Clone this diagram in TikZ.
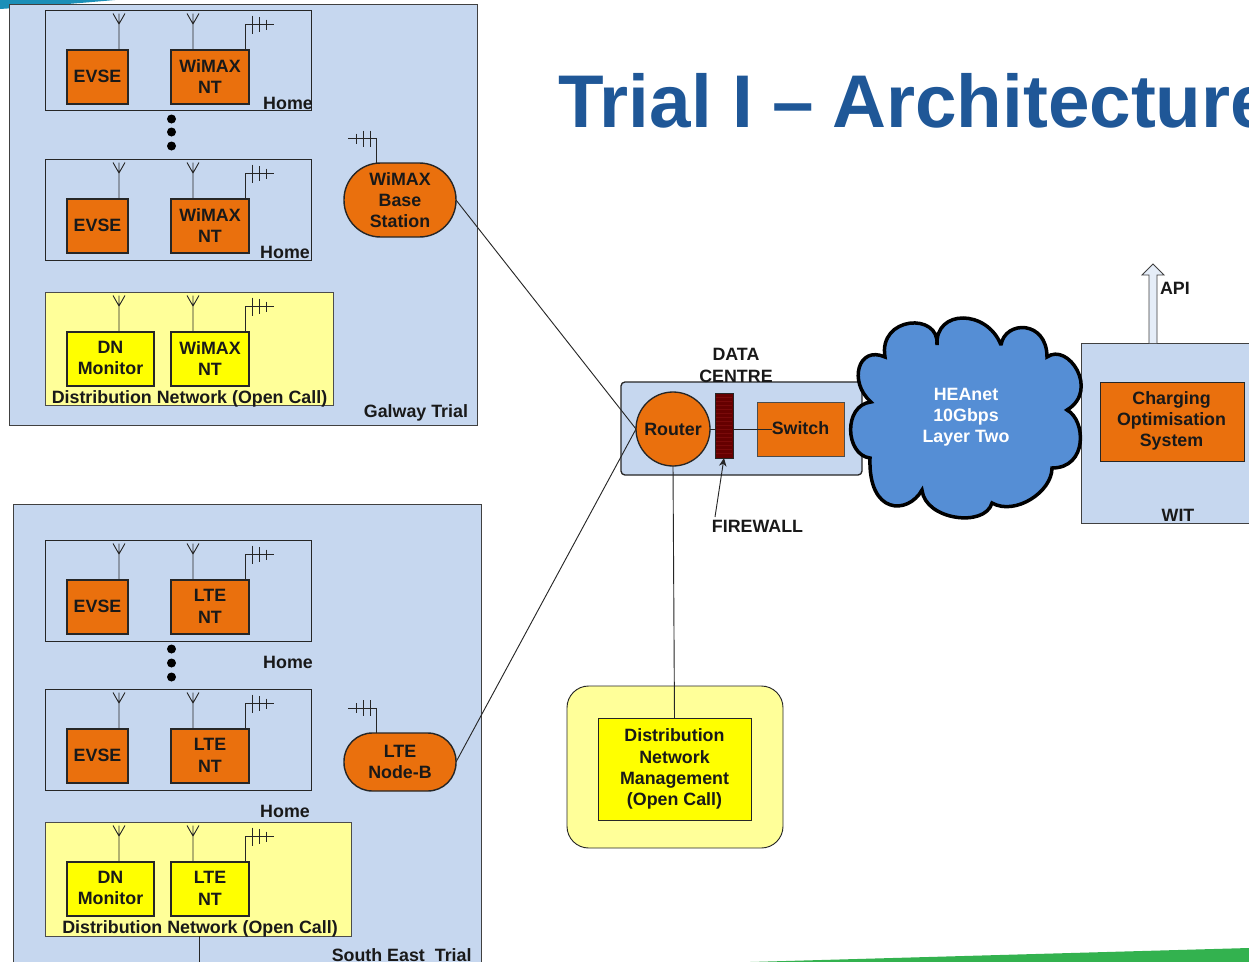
\documentclass[tikz,border=0pt]{standalone}
\usepackage{fontspec}
\setmainfont{Liberation Sans}
\usetikzlibrary{arrows.meta,calc}
\definecolor{panel}{HTML}{C6D7EF}
\definecolor{orng}{HTML}{EA700D}
\definecolor{ylw}{HTML}{FFFF00}
\definecolor{paley}{HTML}{FFFF99}
\definecolor{cloudb}{HTML}{558ED5}
\definecolor{titleb}{HTML}{1F5797}
\definecolor{teal}{HTML}{1B8FB8}
\definecolor{grn}{HTML}{33B24F}
\definecolor{fwred}{HTML}{650000}
\definecolor{fwline}{HTML}{7A0A0A}
\tikzset{
 x=0.6pt,y=-0.6pt,
 lbl/.style={font=\bfseries\fontsize{10.7}{12.7}\selectfont,align=center,inner sep=0pt,outer sep=0pt,text=black!90},
 base/.style={lbl,outer sep=0pt,inner sep=0pt,draw=black!85},
 region/.style={base,fill=panel,line width=0.5pt,draw=black!75},
 homebox/.style={base,fill=panel,line width=0.55pt},
 dnbox/.style={base,fill=paley,line width=0.55pt,draw=black!70},
 orbox/.style={base,fill=orng,line width=0.85pt},
 yebox/.style={base,fill=ylw,line width=0.85pt},
 link/.style={draw=black!85,line width=0.55pt},
 whip/.pic={\draw[link] (0,0)--(0,-36.5) (-6,-36.5)--(0,-26)--(6,-36.5);},
 comb/.pic={\draw[link] (0,0)--(0,-26)--(29,-26) (7,-34.5)--(7,-16.5) (14,-33)--(14,-18) (21,-30.5)--(21,-20.5);},
 combl/.pic={\draw[link] (0,0)--(0,-25)--(-28,-25) (-6,-33)--(-6,-17) (-13,-33)--(-13,-17) (-20,-30)--(-20,-20);},
}
\newcommand{\mybox}[7]{\node[#6,minimum width={(#4-#2)*0.6pt},minimum height={(#5-#3)*0.6pt}] (#1) at ({(#2+#4)/2},{(#3+#5)/2}) {#7};}
\newcommand{\siteunit}[6]{% prefix, y of box tops, left w, left text, right text, style
 \mybox{#1l}{67}{#2}{#3}{#2+54}{#6}{}
 \mybox{#1r}{171}{#2}{249}{#2+54}{#6}{}
 \node[lbl] (#1lt) at ($(#1l)+(0,-0.7)$) {#4};
 \node[lbl] (#1rt) at ($(#1r)+(0,-0.7)$) {#5};
 \pic at (119,#2) {whip};
 \pic at (193,#2) {whip};
 \pic at (245,#2) {comb};
}
\begin{document}
\begin{tikzpicture}
\clip (0,0) rectangle (1249,962);
\useasboundingbox (0,0) rectangle (1249,962);
\fill[white] (0,0) rectangle (1249,962);
\fill[teal] (0,0) -- (115,0) .. controls (70,4) and (30,7) .. (0,9) -- cycle;
\fill[grn] (750,962) -- (1249,948) -- (1249,962) -- cycle;
\node[anchor=base west,inner sep=0pt,text=titleb,font=\bfseries\fontsize{44.8}{50}\selectfont] (title) at (558,127) {Trial I\hspace{-1.2pt} –\hspace{-1.2pt} Architecture};

% Galway
\mybox{galway}{9.5}{4.5}{477}{425.5}{region}{}
\mybox{h1}{45}{10.5}{311.5}{110.5}{homebox}{}
\mybox{h2}{45}{159.5}{311.5}{260.5}{homebox}{}
\mybox{d1}{45}{292.5}{333}{405.5}{dnbox}{}
\siteunit{a}{50}{128}{EVSE}{WiMAX\\NT}{orbox}
\siteunit{b}{199}{128}{EVSE}{WiMAX\\NT}{orbox}
\siteunit{c}{332}{154}{DN\\Monitor}{WiMAX\\NT}{yebox}
\node[lbl] (th1) at (288,103) {Home};
\node[lbl] (th2) at (285,252) {Home};
\node[lbl] (td1) at (189.5,399) {Distribution Network (Open Call)};
\node[lbl,anchor=east] (tg) at (468,413) {Galway Trial};
\foreach \n/\yy in {1/119,2/132,3/146}{\node[circle,fill=black,inner sep=0pt,minimum size=5.4pt] (gd\n) at (171.5,\yy) {};}

% South East
\mybox{south}{13}{504.5}{481}{980}{region}{}
\mybox{h3}{45}{540.5}{311.5}{641}{homebox}{}
\mybox{h4}{45}{689.5}{311.5}{790}{homebox}{}
\mybox{d2}{45}{822.5}{351}{936}{dnbox}{}
\siteunit{e}{580}{128}{EVSE}{LTE\\NT}{orbox}
\siteunit{f}{729}{128}{EVSE}{LTE\\NT}{orbox}
\siteunit{g}{862}{154}{DN\\Monitor}{LTE\\NT}{yebox}
\node[lbl] (th3) at (288,662) {Home};
\node[lbl] (th4) at (285,811) {Home};
\node[lbl] (td2) at (200,929) {Distribution Network (Open Call)};
\node[lbl,anchor=east] (ts) at (471.5,955.5) {South East\ \ Trial};
\foreach \n/\yy in {1/649,2/663,3/677}{\node[circle,fill=black,inner sep=0pt,minimum size=5.4pt] (sd\n) at (171.5,\yy) {};}
\coordinate (stub) at (199,962);
\draw[link] (d2.south -| stub) -- (stub);

% Base stations
\node[orbox,minimum width=67.2pt,minimum height=44.4pt,rounded corners=22pt] (bs) at (400,200) {WiMAX\\Base\\Station};
\node[orbox,minimum width=67.2pt,minimum height=34.8pt,rounded corners=17pt] (lte) at (400,762) {LTE\\Node-B};
\pic at (376,163.5) {combl};
\pic at (376,733) {combl};

% Data centre
\mybox{dc}{621}{382}{862}{475}{base,fill=panel,line width=0.8pt,rounded corners=2.4pt}{}
\node[lbl] (dct) at (736,365.5) {DATA\\CENTRE};
\node[orbox,circle,minimum size=44.4pt,line width=0.8pt] (router) at (673,429) {Router};
\mybox{sw}{757}{402}{844}{456}{base,fill=orng,line width=0.55pt,draw=black!70}{}
\node[lbl] (swt) at (800.5,428) {Switch};
\mybox{fw}{715}{393}{733}{458}{base,fill=fwred,line width=0.55pt}{}
\foreach \yy in {397,401,...,455}{\draw[fwline,line width=0.5pt] (716,\yy)--(732,\yy);}
\draw[link] (router.east) -- (router.east -| fw.west);
\draw[link] (router.east -| fw.east) -- (router.east -| swt.west);
\node[lbl] (fwt) at (757.5,526) {FIREWALL};
\coordinate (fwtail) at (715,517);
\draw[link,-{Stealth[length=5pt,width=4.5pt]}] (fwtail) -- (fw.south);

% Trial links
\draw[link] (bs.east) -- (router.west);
\draw[link] (lte.east) -- (router.west);

% DN management
\mybox{mgmt}{567}{686}{783}{848}{base,fill=paley,line width=0.55pt,rounded corners=13pt}{}
\mybox{mgmti}{598}{718}{751}{820}{base,fill=ylw,line width=0.55pt}{Distribution\\Network\\Management\\(Open Call)}
\draw[link] (router.south) -- (mgmti.north);

% WIT
\mybox{wit}{1081}{343}{1262}{523.5}{region}{}
\mybox{cos}{1100}{382}{1244}{461.5}{base,fill=orng,line width=0.55pt}{}
\node[lbl] (cost) at (1171.5,421) {Charging\\Optimisation\\System};
\node[lbl] (witt) at (1178,515) {WIT};
\coordinate (apibase) at (1153,343);
\draw[fill=panel!45!white,draw=black!75,line width=0.5pt] (1149,343)--(1149,275)--(1142,275)--(1153,264)--(1164,275)--(1157,275)--(1157,343);
\node[lbl,anchor=west] (api) at (1160,288) {API};

% Cloud
\draw[fill=cloudb,draw=black,line width=2.1pt,line join=miter,miter limit=3]
 (885,357) .. controls (878,316) and (940,312) .. (937,345)
 .. controls (935,309) and (987,309) .. (1001,345)
 .. controls (1005,320) and (1047,320) .. (1047,357)
 .. controls (1068,342) and (1100,390) .. (1067,410)
 .. controls (1086,420) and (1088,468) .. (1052,468)
 .. controls (1052,492) and (1015,516) .. (992,503)
 .. controls (985,528) and (925,520) .. (922,490)
 .. controls (908,515) and (868,515) .. (870,458)
 .. controls (845,455) and (843,405) .. (871,402)
 .. controls (848,382) and (858,345) .. (885,357) -- cycle;
\node[lbl,text=white] (hea) at (966,417.5) {HEAnet\\10Gbps\\Layer Two};
\end{tikzpicture}
\end{document}
